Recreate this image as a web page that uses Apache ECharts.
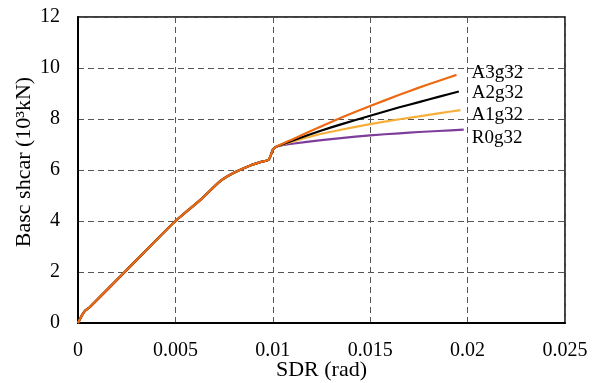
<!DOCTYPE html>
<html>
<head>
<meta charset="utf-8">
<script src="https://cdn.jsdelivr.net/npm/echarts@6/dist/echarts.min.js"></script>
<style>html,body{margin:0;padding:0;background:#fff;}#c{width:596px;height:383px;}</style>
</head>
<body>
<div id="c"></div>
<script>
// Shared pre-peak response (all four models coincide)
var baseSdr   = [0, 0.0002, 0.00036, 0.0006, 0.0025, 0.005, 0.0063, 0.0073, 0.008, 0.00884, 0.0094, 0.00978, 0.0099, 0.0100, 0.0102];
var baseShear = [0, 0.30, 0.48, 0.62, 2.08, 4.00, 4.84, 5.56, 5.89, 6.18, 6.32, 6.40, 6.58, 6.80, 6.92];

// Post-peak branches
var a3Sdr   = [0.011, 0.0125, 0.0135, 0.015, 0.0165, 0.0175, 0.0185, 0.01943];
var a3Shear = [7.20, 7.72, 8.05, 8.51, 8.95, 9.23, 9.49, 9.73];
var a2Sdr   = [0.011, 0.0125, 0.0135, 0.015, 0.0165, 0.0175, 0.0185, 0.01955];
var a2Shear = [7.15, 7.55, 7.79, 8.13, 8.46, 8.66, 8.87, 9.08];
var a1Sdr   = [0.011, 0.0125, 0.0135, 0.015, 0.0165, 0.0175, 0.0185, 0.01963];
var a1Shear = [7.11, 7.42, 7.58, 7.80, 7.99, 8.10, 8.22, 8.35];
var r0Sdr   = [0.011, 0.0125, 0.0135, 0.015, 0.0165, 0.0175, 0.0185, 0.0198];
var r0Shear = [7.03, 7.17, 7.25, 7.36, 7.44, 7.49, 7.53, 7.58];

var seriesNames = ['R0g32', 'A1g32', 'A2g32', 'A3g32'];
var xTicks = [0, 0.005, 0.01, 0.015, 0.02, 0.025];
var yTicks = [0, 2, 4, 6, 8, 10, 12];

function pts(xs, ys) {
  var out = [];
  for (var i = 0; i < baseSdr.length; i++) out.push([baseSdr[i], baseShear[i]]);
  for (var j = 0; j < xs.length; j++) out.push([xs[j], ys[j]]);
  return out;
}

var font = 'Liberation Serif, Times New Roman, serif';
var colors = { 'R0g32': '#7E3D9A', 'A1g32': '#F6B03A', 'A2g32': '#000000', 'A3g32': '#EC6A14' };
var offsets = { 'R0g32': [8, 8], 'A1g32': [11, 5], 'A2g32': [13, 2], 'A3g32': [15, -2] };
var dataMap = {
  'R0g32': pts(r0Sdr, r0Shear),
  'A1g32': pts(a1Sdr, a1Shear),
  'A2g32': pts(a2Sdr, a2Shear),
  'A3g32': pts(a3Sdr, a3Shear)
};

var series = seriesNames.map(function (n) {
  return {
    name: n,
    type: 'line',
    data: dataMap[n],
    showSymbol: false,
    smooth: 0.15,
    lineStyle: { color: colors[n], width: 2.2 },
    itemStyle: { color: colors[n] },
    endLabel: {
      show: true,
      formatter: n,
      distance: 0,
      offset: offsets[n],
      color: '#000',
      fontFamily: font,
      fontSize: 19
    },
    animation: false
  };
});

var chart = echarts.init(document.getElementById('c'), null, { renderer: 'canvas' });
chart.setOption({
  backgroundColor: '#fff',
  animation: false,
  grid: { left: 78, right: 31, top: 17, bottom: 60, containLabel: false, outerBoundsMode: 'none',
    show: true, borderColor: '#000', borderWidth: 1.5, backgroundColor: 'transparent' },
  xAxis: {
    type: 'value',
    min: xTicks[0], max: xTicks[xTicks.length - 1], interval: 0.005,
    name: 'SDR (rad)', nameLocation: 'middle', nameGap: 36, nameMoveOverlap: false,
    nameTextStyle: { fontFamily: font, fontSize: 22, color: '#000' },
    axisLine: { show: true, onZero: false, lineStyle: { color: '#000', width: 2 } },
    axisTick: { show: false },
    axisLabel: { fontFamily: font, fontSize: 20, color: '#000', margin: 18,
      formatter: function (v) { return String(+v.toFixed(3)); } },
    splitLine: { show: true, lineStyle: { color: '#555', type: [6, 4], width: 1 } }
  },
  yAxis: {
    type: 'value',
    min: yTicks[0], max: yTicks[yTicks.length - 1], interval: 2,
    name: 'Basc shcar (10³kN)', nameLocation: 'middle', nameGap: 43, nameMoveOverlap: false,
    nameTextStyle: { fontFamily: font, fontSize: 22, color: '#000', padding: [0, 0, 0, 16] },
    axisLine: { show: true, onZero: false, lineStyle: { color: '#000', width: 2 } },
    axisTick: { show: false },
    axisLabel: { fontFamily: font, fontSize: 20, color: '#000', margin: 18 },
    splitLine: { show: true, lineStyle: { color: '#555', type: [6, 4], width: 1 } }
  },
  series: series
});
</script>
</body>
</html>
